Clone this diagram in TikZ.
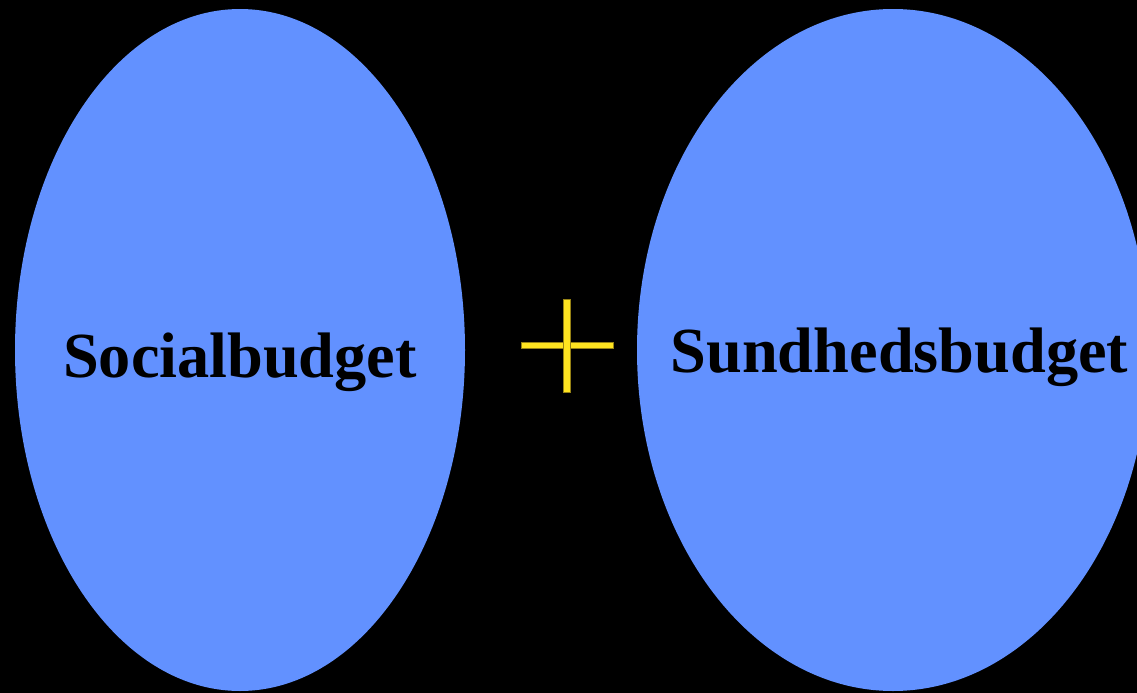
\documentclass[tikz,border=0pt]{standalone}
\usepackage{fontspec}
\setmainfont{Liberation Serif}
\usetikzlibrary{shapes.geometric}
\definecolor{ellblue}{RGB}{98,145,255}
\definecolor{plusyellow}{RGB}{255,228,32}
\definecolor{plusedge}{RGB}{150,130,20}
\tikzset{
  budgetoval/.style={ellipse, fill=ellblue, draw=none, inner sep=0pt},
  budgettext/.style={font=\bfseries\fontsize{36.6}{40}\selectfont, text=black, anchor=base, inner sep=0pt},
  plusbar/.style={fill=plusyellow, draw=plusedge, line width=0.3pt}
}
\begin{document}
\begin{tikzpicture}[x=0.02cm, y=-0.02cm]
\fill[black] (0,0) rectangle (1137,693);
\useasboundingbox (0,0) rectangle (1137,693);
\clip (0,0) rectangle (1137,693);
\node[budgetoval, minimum width=450*0.02cm, minimum height=682*0.02cm] (social) at (240,350) {};
\node[budgetoval, minimum width=512*0.02cm, minimum height=682*0.02cm] (sundhed) at (893,350) {};
\node[budgettext] (socialtxt) at (240,377) {Socialbudget};
\node[budgettext] (sundhedtxt) at (899.5,372) {Sundhedsbudget};
\path[plusbar] (521,342) rectangle (613,348);
\path[plusbar] (563,299) rectangle (570,392);
\fill[plusyellow] (563.5,342.4) rectangle (569.5,347.6);
\end{tikzpicture}
\end{document}
